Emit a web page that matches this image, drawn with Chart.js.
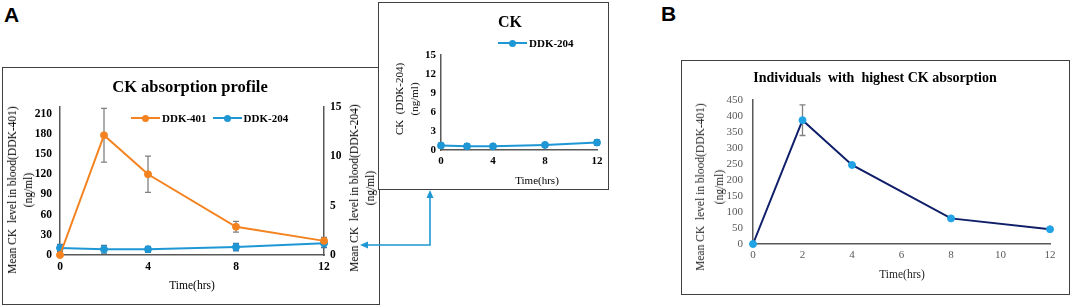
<!DOCTYPE html>
<html>
<head>
<meta charset="utf-8">
<script src="https://cdn.jsdelivr.net/npm/chart.js@4.4.1/dist/chart.umd.min.js"></script>
<style>
  body { margin: 0; width: 1072px; height: 307px; background: #fff; position: relative; overflow: hidden;
         font-family: "Liberation Serif", "Times New Roman", serif; color: #000; }
  .box { position: absolute; border: 1.5px solid #404040; box-sizing: border-box; background: #fff; }
  .abs { position: absolute; white-space: pre; }
  .c { transform: translate(-50%, -50%); }
  .ttl { font-weight: bold; }
  .yt { transform: translate(-50%, -50%) rotate(-90deg); text-align: center; line-height: 16px; font-size: 11.5px; }
  .lab { position: absolute; font-family: "Liberation Sans", Arial, sans-serif; font-weight: bold; font-size: 21px; }
  canvas { position: absolute; }
  .leg { position: absolute; font-weight: bold; font-size: 11px; display: flex; align-items: center; white-space: nowrap; }
  .leg .sw { position: relative; width: 29px; height: 2px; margin-right: 2px; }
  .leg .sw i { position: absolute; left: 11px; top: -2.5px; width: 7px; height: 7px; border-radius: 50%; }
</style>
</head>
<body>

<div class="lab" style="left:4px; top:3px;">A</div>
<div class="lab" style="left:661px; top:2px;">B</div>

<!-- panel A -->
<div class="box" style="left:2px; top:67px; width:378px; height:238px;"></div>
<canvas id="chartA" width="376" height="236" style="left:3px; top:68px;"></canvas>
<div class="abs c ttl" style="left:190px; top:87px; font-size:16.5px;">CK absorption profile</div>
<div id="legendA" class="leg" style="left:131px; top:112px;"></div>
<div class="abs yt" style="left:20px; top:190px;">Mean CK  level in blood(DDK-401)<br>(ng/ml)</div>
<div class="abs yt" style="left:362px; top:188px;">Mean CK  level in blood(DDK-204)<br>(ng/ml)</div>
<div class="abs c" style="left:192px; top:285px; font-size:11.5px;">Time(hrs)</div>

<!-- inset -->
<div class="box" style="left:378px; top:2px; width:231px; height:188px;"></div>
<canvas id="chartInset" width="229" height="186" style="left:379px; top:3px;"></canvas>
<div class="abs c ttl" style="left:510px; top:22px; font-size:16px;">CK</div>
<div id="legendInset" class="leg" style="left:498px; top:37px;"></div>
<div class="abs yt" style="left:407px; top:99px; line-height:15px; font-size:11px;">CK  (DDK-204)<br>(ng/ml)</div>
<div class="abs c" style="left:537px; top:180px; font-size:11px;">Time(hrs)</div>

<!-- panel B -->
<div class="box" style="left:681px; top:60px; width:389px; height:235px;"></div>
<canvas id="chartB" width="387" height="233" style="left:682px; top:61px;"></canvas>
<div class="abs c ttl" style="left:875px; top:78px; font-size:14px;">Individuals  with  highest CK absorption</div>
<div class="abs yt" style="left:710px; top:187px; line-height:19px; color:#262626;">Mean CK  level in blood(DDK-401)<br>(ng/ml)</div>
<div class="abs c" style="left:902px; top:274px; font-size:11.5px; color:#262626;">Time(hrs)</div>

<!-- connector arrow -->
<svg width="1072" height="307" style="position:absolute; left:0; top:0;">
  <polyline points="366,245 430,245 430,196" fill="none" stroke="#1F97D4" stroke-width="1.6"/>
  <polygon points="360,245 368,241.5 368,248.5" fill="#1F97D4"/>
  <polygon points="430,190 426.5,198 433.5,198" fill="#1F97D4"/>
</svg>

<script>
const times = [0, 2, 4, 8, 12];
const seriesNames = ['DDK-401', 'DDK-204'];
const ddk401 = [0, 178, 120, 42, 21];
const ddk401Err = [0, 40, 27, 8, 5];
const ddk204 = [0.72, 0.58, 0.58, 0.8, 1.18];
const ddk204Err = [0.35, 0.4, 0.3, 0.37, 0.42];
const highest = [0, 387, 247, 80, 46];
const highestErr = [0, 48, 0, 0, 0];

const yTicksLeftA = [0, 30, 60, 90, 120, 150, 180, 210];
const yTicksRightA = [0, 5, 10, 15];
const yTicksInset = [0, 3, 6, 9, 12, 15];
const yTicksB = [0, 50, 100, 150, 200, 250, 300, 350, 400, 450];
const xTicksA = [0, 4, 8, 12];
const xTicksB = [0, 2, 4, 6, 8, 10, 12];

const orange = '#F4821F';
const blue = '#1F97D4';
const navy = '#0E1E68';
const serif = '"Liberation Serif", "Times New Roman", serif';

const pts = vals => times.map((t, i) => ({ x: t, y: vals[i] }));

// draws the error bars under each dataset
const errorBars = {
  id: 'errorBars',
  beforeDatasetsDraw(chart) {
    const ctx = chart.ctx;
    chart.data.datasets.forEach((ds) => {
      if (!ds.errors) return;
      const ys = chart.scales[ds.yAxisID];
      const xs = chart.scales.x;
      ctx.save();
      ctx.strokeStyle = ds.errorColor;
      ctx.lineWidth = 1.3;
      ds.data.forEach((p, j) => {
        const e = ds.errors[j];
        if (!e) return;
        const x = xs.getPixelForValue(p.x);
        const top = ys.getPixelForValue(p.y + e);
        const bot = ys.getPixelForValue(p.y - e);
        ctx.beginPath();
        ctx.moveTo(x, top); ctx.lineTo(x, bot);
        ctx.moveTo(x - 3, top); ctx.lineTo(x + 3, top);
        ctx.moveTo(x - 3, bot); ctx.lineTo(x + 3, bot);
        ctx.stroke();
      });
      ctx.restore();
    });
  }
};

const setTicks = arr => scale => { scale.ticks = arr.map(v => ({ value: v })); };
const fixW = w => scale => { scale.width = w; };
const fixH = h => scale => { scale.height = h; };

function lineSet(label, vals, errs, color, axis, errColor, ptColor) {
  return {
    label: label,
    data: pts(vals),
    errors: errs,
    errorColor: errColor,
    yAxisID: axis,
    borderColor: color,
    backgroundColor: ptColor || color,
    pointBackgroundColor: ptColor || color,
    pointBorderColor: ptColor || color,
    borderWidth: 2,
    pointRadius: 3.5,
    pointBorderWidth: 1,
    tension: 0,
    clip: false
  };
}

function xAxis(max, tickArr, h, pad, font) {
  return {
    type: 'linear', min: 0, max: max,
    grid: { display: false, drawTicks: false },
    border: { display: true, color: '#595959', width: 1.5 },
    afterBuildTicks: setTicks(tickArr),
    afterFit: fixH(h),
    ticks: { padding: pad, maxRotation: 0, autoSkip: false, font: font.f, color: font.c }
  };
}

function yAxis(pos, max, tickArr, w, pad, font) {
  return {
    type: 'linear', position: pos, min: 0, max: max,
    grid: { display: false, drawTicks: false },
    border: { display: true, color: '#595959', width: 1.5 },
    afterBuildTicks: setTicks(tickArr),
    afterFit: fixW(w),
    ticks: { padding: pad, autoSkip: false, font: font.f, color: font.c }
  };
}

const boldTick = { f: { family: serif, size: 11.5, weight: 'bold' }, c: '#000' };
const boldTickSm = { f: { family: serif, size: 11, weight: 'bold' }, c: '#000' };
const plainTick = { f: { family: serif, size: 11 }, c: '#595959' };

const baseOpts = (pad) => ({
  responsive: false,
  animation: false,
  layout: { padding: pad, autoPadding: false },
  plugins: { legend: { display: false }, tooltip: { enabled: false } }
});

// panel A: both series, two y axes
new Chart(document.getElementById('chartA'), {
  type: 'line',
  data: {
    datasets: [
      lineSet(seriesNames[0], ddk401, ddk401Err, orange, 'yL', '#808080'),
      lineSet(seriesNames[1], ddk204, ddk204Err, blue, 'yR', '#3F74A0')
    ]
  },
  options: Object.assign(baseOpts({ top: 39, left: 0, right: 0, bottom: 0 }), {
    scales: {
      x: xAxis(12, xTicksA, 49, 5, boldTick),
      yL: yAxis('left', 220, yTicksLeftA, 57, 8, boldTick),
      yR: yAxis('right', 15, yTicksRightA, 55, 6, boldTick)
    }
  }),
  plugins: [errorBars]
});

// inset: DDK-204 alone
new Chart(document.getElementById('chartInset'), {
  type: 'line',
  data: {
    datasets: [lineSet(seriesNames[1], ddk204, ddk204Err, blue, 'y', '#3F74A0')]
  },
  options: Object.assign(baseOpts({ top: 52, left: 0, right: 11, bottom: 0 }), {
    scales: {
      x: xAxis(12, xTicksA, 39, 5, boldTickSm),
      y: yAxis('left', 15, yTicksInset, 62, 5, boldTickSm)
    }
  }),
  plugins: [errorBars]
});

// panel B
new Chart(document.getElementById('chartB'), {
  type: 'line',
  data: {
    datasets: [lineSet('Highest', highest, highestErr, navy, 'y', '#808080', '#22A3E6')]
  },
  options: Object.assign(baseOpts({ top: 39, left: 0, right: 19, bottom: 0 }), {
    scales: {
      x: xAxis(12, xTicksB, 50, 5, plainTick),
      y: yAxis('left', 450, yTicksB, 71, 10, plainTick)
    }
  }),
  plugins: [errorBars]
});

// html legends built from the series names
function legend(id, names, colors) {
  const el = document.getElementById(id);
  names.forEach((n, i) => {
    const item = document.createElement('div');
    item.style.display = 'flex';
    item.style.alignItems = 'center';
    item.style.marginRight = i < names.length - 1 ? '6px' : '0';
    item.innerHTML = '<span class="sw" style="background:' + colors[i] + '"><i style="background:' + colors[i] + '"></i></span>' + n;
    el.appendChild(item);
  });
}
legend('legendA', seriesNames, [orange, blue]);
legend('legendInset', [seriesNames[1]], [blue]);
</script>
</body>
</html>
